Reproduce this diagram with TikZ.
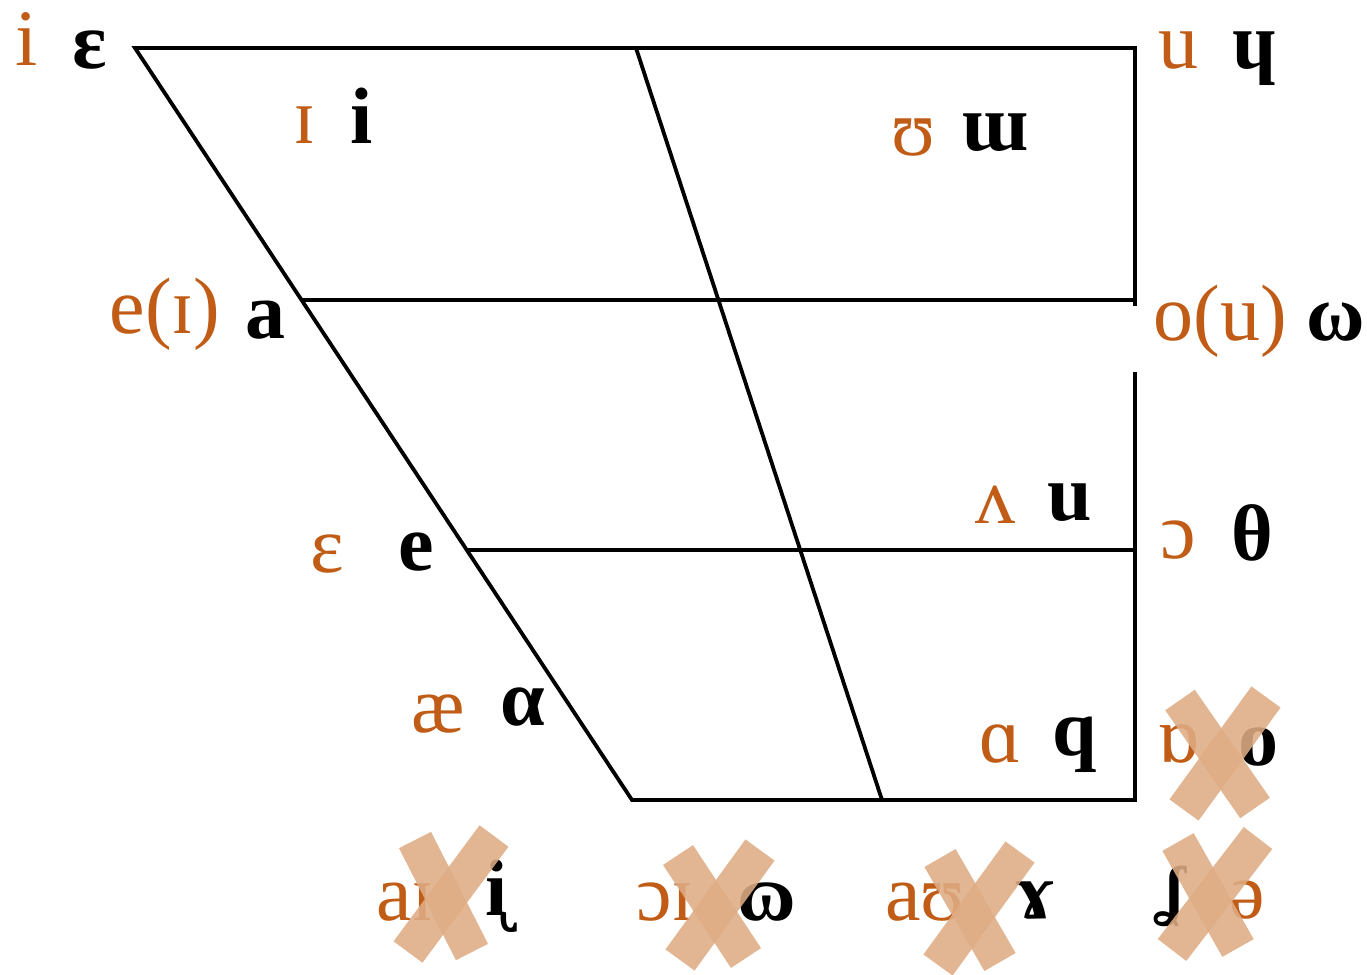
\documentclass[tikz,border=0pt]{standalone}
\usepackage{fontspec}
\setmainfont{Liberation Serif}
\usepackage{tikz}
\usetikzlibrary{calc}
\definecolor{naranja}{RGB}{192,92,22}
\definecolor{tachado}{RGB}{222,172,132}

\begin{document}
\begin{tikzpicture}[x=1pt,y=-1pt,
  vocal/.style={text=naranja, font=\fontsize{80}{90}\selectfont,
    anchor=base, inner sep=0pt},
  signo/.style={text=black, font=\fontsize{80}{90}\selectfont\bfseries,
    anchor=base, inner sep=0pt},
  marco/.style={draw=black, line width=3.8pt},
  tacha/.style={draw=tachado, line width=36pt, opacity=0.88}
]
\useasboundingbox (0,0) rectangle (1367,974);
% Trapecio
\coordinate (tl) at (135,48);
\coordinate (tm) at (636,48);
\coordinate (tr) at (1135,48);
\coordinate (bl) at (632,800);
\coordinate (bm) at (882,800);
\coordinate (br) at (1135,800);
\coordinate (h1) at ($(tl)!0.335!(bl)$);
\coordinate (h2) at ($(tl)!0.6676!(bl)$);
\draw[marco] (tl) -- (tr) -- (br) -- (bl) -- cycle;
\draw[marco] (tm) -- (bm);
\draw[marco] (h1) -- (h1 -| tr);
\draw[marco] (h2) -- (h2 -| tr);
\fill[white] (1126,306) rectangle (1146,372);
% Vocales arriba
\node[vocal] (vi) at (27,66) {i};
\node[signo] (si) at (90,68) {ɛ};
\node[vocal] (vu) at (1178,68) {u};
\node[signo] (su) at (1255,68) {ɥ};
\node[vocal] (vI) at (305,143) {ɪ};
\node[signo] (sI) at (362,143) {i};
\node[vocal] (vU) at (913,155) {ʊ};
\node[signo] (sU) at (995,150) {ɯ};
% Vocales medias
\node[vocal] (ve) at (165,333) {e(ɪ)};
\node[signo] (se) at (265,338) {a};
\node[vocal] (vo) at (1220,340) {o(u)};
\node[signo] (so) at (1336,340) {ω};
\node[vocal] (vV) at (995,523) {ʌ};
\node[signo] (sV) at (1070,520) {u};
\node[vocal] (vO) at (1178,558) {ɔ};
\node[signo] (sO) at (1252,560) {θ};
\node[vocal] (vE) at (327,572) {ɛ};
\node[signo] (sE) at (416,570) {e};
% Vocales abajo
\node[vocal] (vae) at (438,732) {æ};
\node[signo] (sae) at (523,725) {α};
\node[vocal] (vA) at (1000,762) {ɑ};
\node[signo] (sA) at (1075,755) {q};
\node[vocal] (vQ) at (1178,762) {ɒ};
\node[signo] (sQ) at (1258,765) {o};
% Diptongos
\node[vocal] (vai) at (405,920) {aɪ};
\node[signo] (sai) at (497,915) {ᶖ};
\node[vocal] (voi) at (665,920) {ɔɪ};
\node[signo] (soi) at (767,920) {ɷ};
\node[vocal] (vau) at (925,920) {aʊ};
\node[signo] (sau) at (1035,918) {ɤ};
\node[signo, font=\fontsize{66}{80}\selectfont\bfseries] (ssw) at (1175,912) {ʆ};
\node[vocal] (vsw) at (1247,918) {ə};
% Tachas
\draw[tacha] (1180,700) -- (1255,808);
\draw[tacha] (1266,697) -- (1184,810);
\draw[tacha] (415,840) -- (472,952);
\draw[tacha] (494,836) -- (408,952);
\draw[tacha] (678,855) -- (746,958);
\draw[tacha] (760,850) -- (680,960);
\draw[tacha] (940,858) -- (1000,962);
\draw[tacha] (1020,852) -- (938,965);
\draw[tacha] (1178,842) -- (1238,948);
\draw[tacha] (1258,838) -- (1172,950);
\end{tikzpicture}
\end{document}
